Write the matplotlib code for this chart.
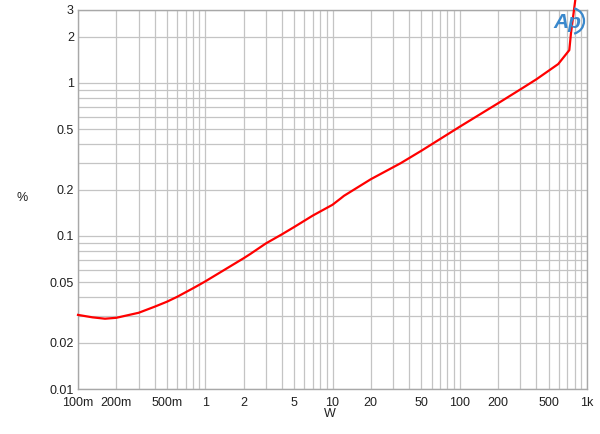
import matplotlib
matplotlib.use("Agg")
import matplotlib.pyplot as plt
from matplotlib.ticker import FixedLocator, NullFormatter, LogLocator
from matplotlib.patches import Arc

plt.rcParams['font.family'] = ['Liberation Sans', 'DejaVu Sans']

# Data (power in W, THD+N in %)
power_w = [0.1, 0.13, 0.163, 0.2, 0.3, 0.4, 0.5, 0.6, 0.8, 0.91, 1.0, 2.0,
           2.26, 3.0, 4.0, 5.0, 7.0, 10.0, 11.6, 12.3, 20.0, 34.3, 50.0,
           100.0, 200.0, 300.0, 400.0, 594.0, 726.0, 748.0, 809.0]
thd_pct = [0.0305, 0.0294, 0.0288, 0.0292, 0.0315, 0.0345, 0.0372, 0.0400,
           0.0455, 0.0483, 0.0505, 0.0715, 0.0763, 0.0895, 0.1025, 0.1145,
           0.136, 0.160, 0.176, 0.183, 0.235, 0.299, 0.361, 0.518, 0.737,
           0.909, 1.057, 1.33, 1.64, 2.11, 3.49]

x_ticks = [0.1, 0.2, 0.5, 1, 2, 5, 10, 20, 50, 100, 200, 500, 1000]
x_labels = ['100m', '200m', '500m', '1', '2', '5', '10', '20', '50', '100',
            '200', '500', '1k']
y_ticks = [0.01, 0.02, 0.05, 0.1, 0.2, 0.5, 1, 2, 3]
y_labels = ['0.01', '0.02', '0.05', '0.1', '0.2', '0.5', '1', '2', '3']

fig = plt.figure(figsize=(6.0, 4.34), dpi=100)
ax = fig.add_axes([78 / 600, 45 / 434, 509 / 600, 379 / 434])

ax.set_xscale('log')
ax.set_yscale('log')
ax.set_xlim(0.1, 1000)
ax.set_ylim(0.01, 3)

ax.xaxis.set_major_locator(FixedLocator(x_ticks))
ax.xaxis.set_minor_locator(LogLocator(base=10, subs=range(1, 10), numticks=50))
ax.xaxis.set_minor_formatter(NullFormatter())
ax.set_xticklabels(x_labels)
ax.yaxis.set_major_locator(FixedLocator(y_ticks))
ax.yaxis.set_minor_locator(LogLocator(base=10, subs=range(1, 10), numticks=50))
ax.yaxis.set_minor_formatter(NullFormatter())
ax.set_yticklabels(y_labels)

ax.grid(True, which='both', color='#c4c4c4', linewidth=0.9)
ax.set_axisbelow(True)
for s in ax.spines.values():
    s.set_color('#a8a8a8')
    s.set_linewidth(1.0)
ax.tick_params(which='both', length=0, labelsize=9, colors='#202020')
ax.tick_params(axis='x', pad=6)
ax.tick_params(axis='y', pad=3)

ax.plot(power_w, thd_pct, color='#ff0000', linewidth=1.6, clip_on=False, zorder=5)

fig.text(22 / 600, 1 - 198 / 434, '%', fontsize=9, ha='center', va='center', color='#202020')
fig.text(330 / 600, 1 - 414 / 434, 'W', fontsize=9, ha='center', va='center', color='#202020')

# AP logo
fig.text(567 / 600, 1 - 22 / 434, 'Ap', fontsize=15, fontstyle='italic', fontweight='bold',
         color='#3a88cc', ha='center', va='center', zorder=10)
arc = Arc((571 / 600, 1 - 21 / 434), 26 / 600, 26 / 434, theta1=-80, theta2=80,
          transform=fig.transFigure, color='#3a88cc', linewidth=1.6)
fig.add_artist(arc)

fig.savefig('out.png', dpi=100)
